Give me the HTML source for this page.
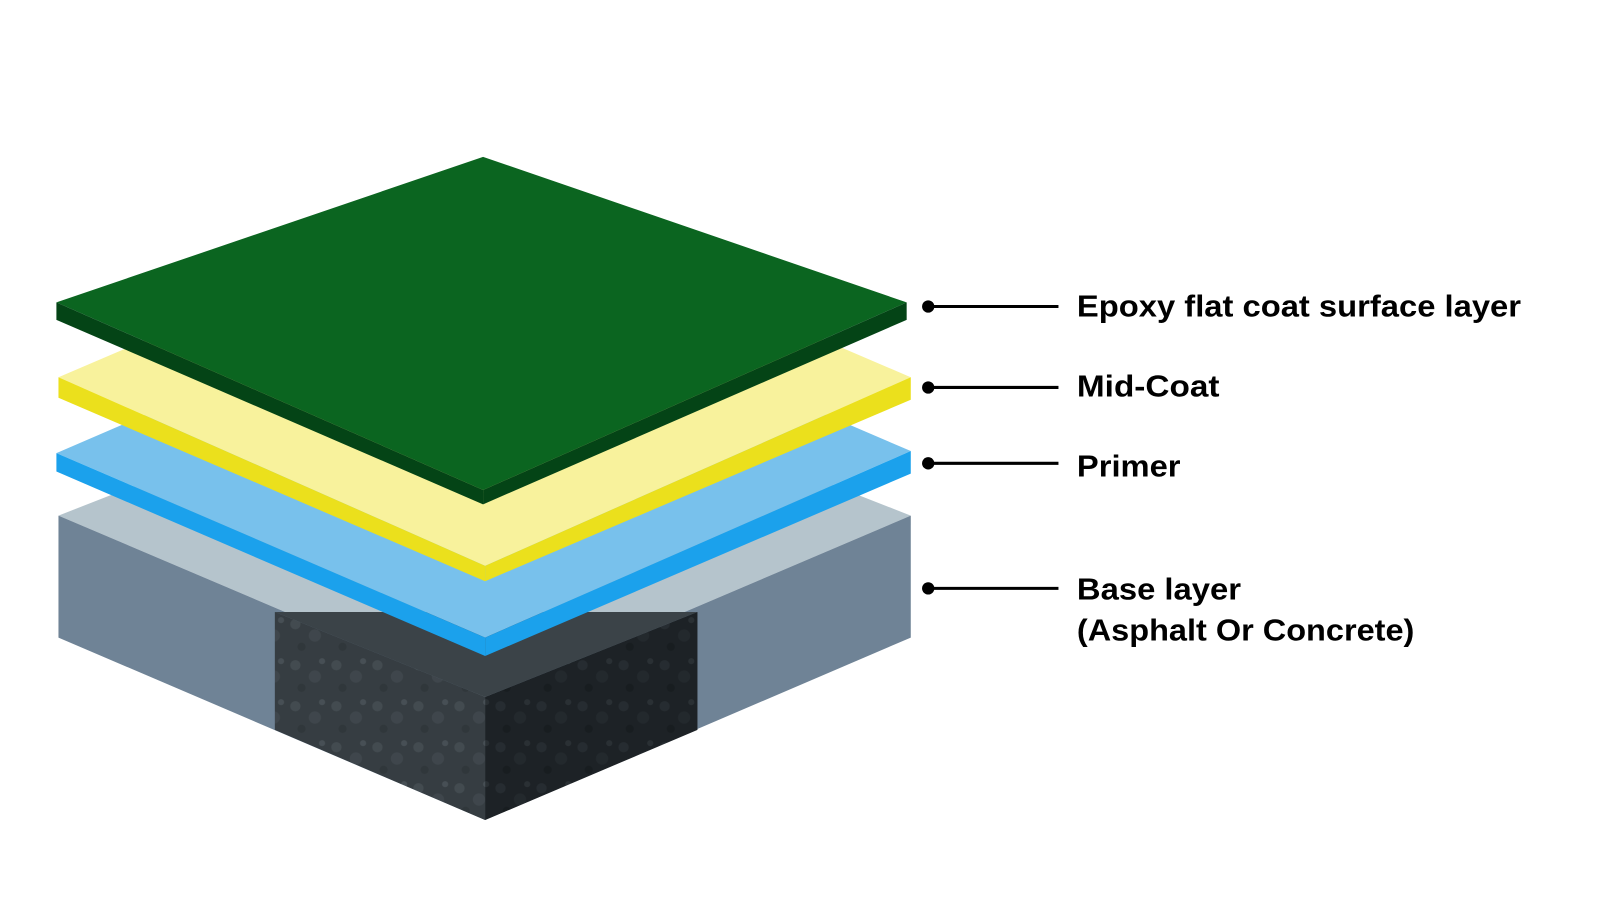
<!DOCTYPE html>
<html><head><meta charset="utf-8"><style>
html,body{margin:0;padding:0;background:#fff;}
svg{display:block;}
text{font-family:"Liberation Sans",sans-serif;font-weight:bold;font-size:30px;fill:#000;}
</style></head><body>
<svg width="1600" height="900" viewBox="0 0 1560 878" preserveAspectRatio="none">
<defs>
<pattern id="rock" width="40" height="40" patternUnits="userSpaceOnUse">
<rect width="40" height="40" fill="#2c3236"/>
<circle cx="8" cy="9" r="5" fill="#3f474c"/>
<circle cx="27" cy="20" r="6" fill="#394045"/>
<circle cx="14" cy="31" r="4" fill="#22282b"/>
<circle cx="34" cy="5" r="3" fill="#464e53"/>
</pattern>
</defs>
<polygon points="57,503 473,340 888,503 473,680" fill="#b5c4cc"/>
<polygon points="57,503 473,680 473,800 57,622" fill="#6f8396"/>
<polygon points="888,503 473,680 473,800 888,622" fill="#6f8396"/>
<polygon points="268,597 473,680 473,800 268,712" fill="url(#rock)"/>
<polygon points="268,597 473,680 473,800 268,712" fill="#4a5358" opacity="0.35"/>
<polygon points="680,597 473,680 473,800 680,712" fill="url(#rock)"/>
<polygon points="680,597 473,680 473,800 680,712" fill="#0d1216" opacity="0.5"/>
<polygon points="268,597 680,597 473,680" fill="#3b4348"/>
<polygon points="55,442 473,262 888,440 473,622" fill="#78c1ec"/>
<polygon points="55,442 473,622 473,640 55,460" fill="#1ba1ec"/>
<polygon points="888,440 473,622 473,640 888,462" fill="#1ba1ec"/>
<polygon points="57,368 473,190 888,368 473,552" fill="#f8f29c"/>
<polygon points="57,368 473,552 473,567 57,388" fill="#ebe01c"/>
<polygon points="888,368 473,552 473,567 888,390" fill="#ebe01c"/>
<polygon points="55,295 471,153 884,295 471,478" fill="#0b6520"/>
<polygon points="55,295 471,478 471,492 55,312" fill="#044416"/>
<polygon points="884,295 471,478 471,492 884,312" fill="#044416"/>
<g stroke="#000" stroke-width="3">
<line x1="905" y1="299" x2="1032" y2="299"/>
<line x1="905" y1="378" x2="1032" y2="378"/>
<line x1="905" y1="452" x2="1032" y2="452"/>
<line x1="905" y1="574" x2="1032" y2="574"/>
</g>
<g fill="#000">
<circle cx="905" cy="299" r="6"/><circle cx="905" cy="378" r="6"/>
<circle cx="905" cy="452" r="6"/><circle cx="905" cy="574" r="6"/>
</g>
<text x="1050" y="309" textLength="433" lengthAdjust="spacingAndGlyphs">Epoxy flat coat surface layer</text>
<text x="1050" y="387" textLength="139" lengthAdjust="spacingAndGlyphs">Mid-Coat</text>
<text x="1050" y="465" textLength="101" lengthAdjust="spacingAndGlyphs">Primer</text>
<text x="1050" y="585" textLength="160" lengthAdjust="spacingAndGlyphs">Base layer</text>
<text x="1050" y="625" textLength="329" lengthAdjust="spacingAndGlyphs">(Asphalt Or Concrete)</text>
</svg>
</body></html>
